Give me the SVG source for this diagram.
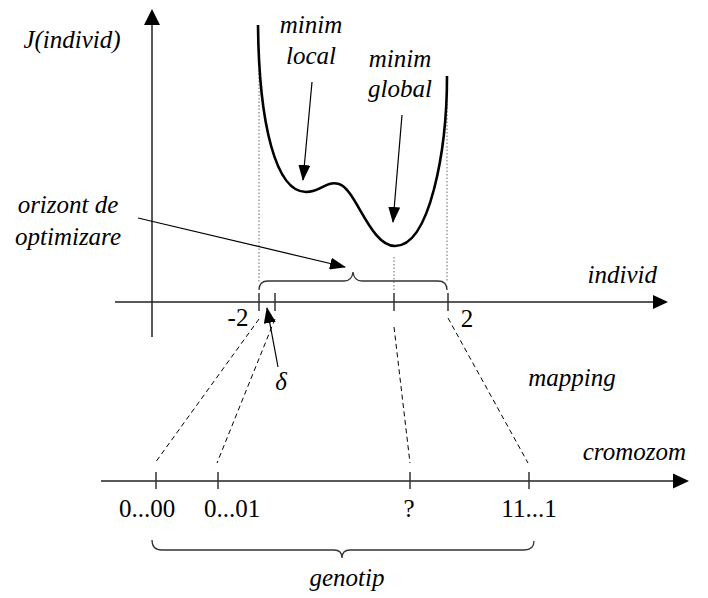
<svg xmlns="http://www.w3.org/2000/svg" width="708" height="598" viewBox="0 0 708 598">
<style>
.t{font-family:"Liberation Serif","Times New Roman",serif;font-size:25px;fill:#000}
.i{font-style:italic}
.ax{stroke:#222;stroke-width:1.5;fill:none}
.tk{stroke:#333;stroke-width:1.5}
.br{stroke:#333;stroke-width:1.3;fill:none}
.dot{stroke:#666;stroke-width:1;stroke-dasharray:1.5 2}
.dsh{stroke:#000;stroke-width:1;stroke-dasharray:5 3.5}
.ar{stroke:#000;stroke-width:1.2;fill:none}
</style>
<defs>
<marker id="ah" viewBox="0 0 16 12" refX="15" refY="6" markerWidth="16" markerHeight="12" markerUnits="userSpaceOnUse" orient="auto">
<path d="M0,0 L16,6 L0,12 Z" fill="#000"/>
</marker>
</defs>
<rect width="708" height="598" fill="#fff"/>
<g id="axes">
<line class="ax" x1="152" y1="337" x2="152" y2="24"/>
<polygon points="152,9 144,25 160,25" fill="#000"/>
<line class="ax" x1="115" y1="302" x2="654" y2="302"/>
<polygon points="668,302 653,295 653,309" fill="#000"/>
<line class="ax" x1="101" y1="481" x2="674" y2="481"/>
<polygon points="689,481 673,473.5 673,488.5" fill="#000"/>
</g>
<g id="ticks">
<line class="tk" x1="259" y1="293" x2="259" y2="311"/>
<line class="tk" x1="275" y1="293" x2="275" y2="311"/>
<line class="tk" x1="394" y1="293" x2="394" y2="311"/>
<line class="tk" x1="448" y1="293" x2="448" y2="311"/>
<line class="tk" x1="156" y1="472" x2="156" y2="489"/>
<line class="tk" x1="218" y1="472" x2="218" y2="489"/>
<line class="tk" x1="410" y1="472" x2="410" y2="489"/>
<line class="tk" x1="529" y1="472" x2="529" y2="489"/>
</g>
<g id="guides">
<line class="dot" x1="259" y1="70" x2="259" y2="282"/>
<line class="dot" x1="447" y1="97" x2="447" y2="282"/>
<line class="dot" x1="394" y1="257" x2="394" y2="290"/>
</g>
<g id="curve">
<path d="M258,25 C259,125 276,192 306,192 C322,192 326,180 339,184 C356,189 370,246 395,246 C430,246 447,150 447,76" fill="none" stroke="#000" stroke-width="2.6"/>
</g>
<g id="braces">
<path class="br" d="M259,290 Q259,281 268,281 L344,281 Q352,281 353,272 Q354,281 362,281 L438,281 Q447,281 447,290"/>
<path class="br" d="M152,540 Q152,550 162,550 L334,550 Q342,550 342,558 Q342,550 350,550 L524,550 Q534,550 534,541"/>
</g>
<g id="connectors">
<line class="dsh" x1="259" y1="319" x2="155" y2="463"/>
<line class="dsh" x1="275" y1="319" x2="217" y2="463"/>
<line class="dsh" x1="394" y1="327" x2="410" y2="463"/>
<line class="dsh" x1="448" y1="318" x2="528" y2="463"/>
<line class="ar" x1="312" y1="82" x2="303" y2="180" marker-end="url(#ah)"/>
<line class="ar" x1="402" y1="115" x2="393" y2="222" marker-end="url(#ah)"/>
<line class="ar" x1="138" y1="218" x2="345" y2="267" marker-end="url(#ah)"/>
<line class="ar" x1="278" y1="367" x2="267" y2="308" marker-end="url(#ah)"/>
</g>
<g id="labels">
<text class="t i" x="72" y="48" text-anchor="middle">J(individ)</text>
<text class="t i" x="311" y="33" text-anchor="middle">minim</text>
<text class="t i" x="311" y="64" text-anchor="middle">local</text>
<text class="t i" x="400" y="67" text-anchor="middle">minim</text>
<text class="t i" x="400" y="97" text-anchor="middle">global</text>
<text class="t i" x="68" y="213" text-anchor="middle">orizont de</text>
<text class="t i" x="68" y="245" text-anchor="middle">optimizare</text>
<text class="t i" x="657" y="283" text-anchor="end">individ</text>
<text class="t" x="238" y="326" text-anchor="middle">-2</text>
<text class="t" x="467" y="327" text-anchor="middle">2</text>
<text class="t i" x="281" y="390" text-anchor="middle">δ</text>
<text class="t i" x="572" y="386" text-anchor="middle">mapping</text>
<text class="t i" x="686" y="460" text-anchor="end">cromozom</text>
<text class="t" x="147" y="517" text-anchor="middle">0...00</text>
<text class="t" x="232" y="517" text-anchor="middle">0...01</text>
<text class="t" x="409" y="517" text-anchor="middle">?</text>
<text class="t" x="529" y="517" text-anchor="middle">11...1</text>
<text class="t i" x="347" y="586" text-anchor="middle">genotip</text>
</g>
</svg>
